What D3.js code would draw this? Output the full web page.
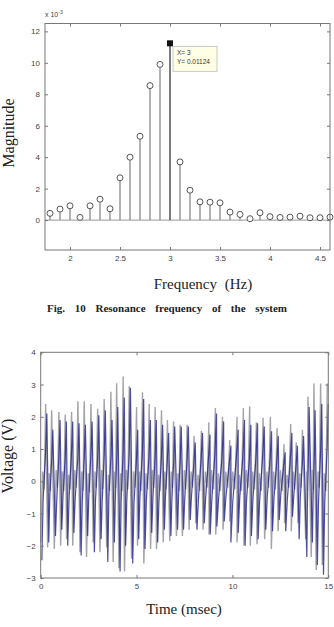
<!DOCTYPE html>
<html>
<head>
<meta charset="utf-8">
<script src="https://cdn.jsdelivr.net/npm/d3@7"></script>
<style>
  body { margin: 0; background: #fff; }
  svg { display: block; }
  .tick text { font-family: "Liberation Sans", Arial, sans-serif; font-size: 8px; fill: #444; }
  .tick line { stroke: #777; }
  .serif { font-family: "Liberation Serif", "Times New Roman", serif; fill: #222; }
</style>
</head>
<body>
<div id="chart"></div>
<script>
// ---- Fig. 10: spectrum (magnitude in units of 1e-3)
const freq = [1.8, 1.9, 2.0, 2.1, 2.2, 2.3, 2.4, 2.5, 2.6, 2.7, 2.8, 2.9, 3.0, 3.1, 3.2,
              3.3, 3.4, 3.5, 3.6, 3.7, 3.8, 3.9, 4.0, 4.1, 4.2, 4.3, 4.4, 4.5, 4.6];
const magnitude = [0.43, 0.7, 0.91, 0.17, 0.91, 1.33, 0.72, 2.69, 4.0, 5.33, 8.55, 9.9, 11.24, 3.7, 1.9,
                   1.16, 1.14, 1.1, 0.51, 0.36, 0.09, 0.47, 0.22, 0.17, 0.19, 0.25, 0.15, 0.15, 0.19];
const freqTicks = [2, 2.5, 3, 3.5, 4, 4.5];
const magTicks = [0, 2, 4, 6, 8, 10, 12];
const tipFreq = 3;
const tipMag = 11.24;
const tipLines = ["X= 3", "Y= 0.01124"];

// ---- voltage trace, read per cycle (ms, V)
const troughTimes = [0.00, 0.36, 0.71, 1.04, 1.35, 1.67, 2.05, 2.39, 2.74, 3.09, 3.44, 3.78, 4.08, 4.37, 4.74,
                     5.05, 5.38, 5.73, 6.04, 6.39, 6.73, 7.08, 7.39, 7.74, 8.09, 8.47, 8.78, 9.13, 9.51, 9.86,
                     10.24, 10.60, 10.93, 11.28, 11.68, 12.03, 12.38, 12.72, 13.07, 13.42, 13.82, 14.11, 14.37, 14.69];
const peakTimes = [0.26, 0.57, 0.95, 1.28, 1.61, 1.94, 2.27, 2.62, 2.97, 3.31, 3.66, 3.96, 4.30, 4.62, 5.00,
                   5.31, 5.66, 5.97, 6.30, 6.61, 6.93, 7.27, 7.64, 8.00, 8.38, 8.77, 9.11, 9.48, 9.86, 10.24,
                   10.57, 10.90, 11.25, 11.60, 11.98, 12.33, 12.69, 13.04, 13.33, 13.65, 13.94, 14.25, 14.60, 14.95];
const grayPeak = [2.4, 2.2, 2.15, 2.07, 2.15, 2.48, 2.48, 2.4, 2.25, 2.55, 2.78, 3.04, 3.25, 2.95, 2.3,
                  2.76, 2.4, 2.3, 2.2, 1.9, 1.85, 1.75, 1.75, 1.4, 1.57, 1.83, 2.27, 2.0, 1.28, 2.0,
                  2.27, 2.33, 1.83, 1.97, 2.0, 1.65, 1.15, 1.78, 1.2, 1.6, 2.63, 3.03, 3.03, 3.03];
const grayTrough = [-1.9, -2.05, -2.1, -2.0, -1.8, -2.0, -2.2, -2.35, -1.9, -2.2, -2.05, -2.5, -2.7, -2.8, -2.4,
                    -2.0, -2.55, -2.1, -2.1, -1.9, -1.85, -1.7, -1.7, -1.5, -1.3, -1.5, -1.65, -1.65, -1.5, -1.25,
                    -1.9, -2.0, -2.0, -1.95, -1.8, -2.1, -1.55, -1.3, -1.55, -1.3, -1.8, -2.35, -2.75, -2.6];
const rippleHigh = [0.3, 0.25, 0.35, 0.3, 0.2, 0.35, 0.3, 0.25, 0.3, 0.35, 0.2, 0.3, 0.25, 0.35, 0.3,
                    0.3, 0.25, 0.35, 0.2, 0.3, 0.3, 0.25, 0.35, 0.3, 0.2, 0.3, 0.35, 0.25, 0.3, 0.3,
                    0.2, 0.35, 0.3, 0.25, 0.3, 0.3, 0.35, 0.2, 0.3, 0.25, 0.3, 0.35, 0.3, 0.25];
const rippleLow = [-0.25, -0.3, -0.2, -0.3, -0.25, -0.2, -0.3, -0.35, -0.2, -0.25, -0.3, -0.2, -0.3, -0.25, -0.2,
                   -0.3, -0.25, -0.2, -0.3, -0.25, -0.2, -0.3, -0.25, -0.2, -0.3, -0.2, -0.25, -0.3, -0.2, -0.25,
                   -0.3, -0.2, -0.25, -0.3, -0.2, -0.25, -0.3, -0.2, -0.25, -0.2, -0.3, -0.25, -0.2, -0.3];
const bluePeak = [2.1, 1.6, 1.9, 1.85, 1.85, 1.8, 1.75, 1.85, 2.05, 2.2, 1.9, 2.3, 2.6, 2.9, 1.6,
                  2.55, 1.9, 1.9, 1.75, 1.5, 1.7, 1.7, 1.7, 1.2, 1.5, 1.45, 2.1, 1.85, 1.1, 1.6,
                  1.9, 1.75, 1.8, 1.7, 1.55, 1.4, 0.9, 1.5, 1.1, 1.4, 2.3, 2.2, 2.4, 2.4];
const blueTrough = [-2.45, -1.9, -1.7, -1.5, -2.0, -1.6, -2.3, -1.7, -2.2, -1.8, -2.5, -1.9, -2.8, -2.0, -2.55,
                    -1.8, -2.1, -1.6, -1.9, -1.5, -1.7, -1.5, -1.5, -1.2, -1.5, -1.3, -1.65, -1.4, -1.25, -1.9,
                    -1.6, -2.0, -1.7, -1.8, -1.5, -1.55, -1.2, -1.55, -1.1, -1.8, -2.35, -1.9, -2.6, -2.9];
const blueShoulderLow = [-0.6, -0.5, -0.7, -0.5, -0.6, -0.55, -0.7, -0.5, -0.6, -0.65, -0.5, -0.7, -0.6, -0.55, -0.7,
                         -0.5, -0.6, -0.55, -0.65, -0.5, -0.6, -0.5, -0.55, -0.45, -0.6, -0.5, -0.6, -0.55, -0.5, -0.65,
                         -0.5, -0.6, -0.55, -0.6, -0.5, -0.55, -0.45, -0.6, -0.5, -0.55, -0.7, -0.6, -0.7, -0.65];
const blueShoulderHigh = [0.9, 0.7, 0.8, 0.75, 0.85, 0.7, 0.8, 0.9, 0.75, 0.85, 0.8, 0.9, 1.0, 0.85, 0.7,
                          0.9, 0.8, 0.75, 0.7, 0.8, 0.65, 0.75, 0.7, 0.6, 0.7, 0.75, 0.85, 0.7, 0.55, 0.75,
                          0.8, 0.7, 0.75, 0.8, 0.7, 0.65, 0.5, 0.7, 0.55, 0.6, 0.85, 0.9, 1.0, 1.1];
const timeTicks = [0, 5, 10, 15];
const voltTicks = [-3, -2, -1, 0, 1, 2, 3, 4];

const svg = d3.select("#chart").append("svg").attr("width", 334).attr("height", 627);

// box with inward ticks on all four sides, like a MATLAB axes
function frame(x, y, xTicks, yTicks) {
  const [x0, x1] = x.range();
  const [yb, yt] = y.range();
  const g = svg.append("g");
  g.append("g").attr("transform", `translate(0,${yb})`)
    .call(d3.axisBottom(x).tickValues(xTicks).tickSizeInner(-3).tickSizeOuter(0)
      .tickPadding(5).tickFormat(d3.format("~g")));
  g.append("g").attr("transform", `translate(0,${yt})`)
    .call(d3.axisTop(x).tickValues(xTicks).tickSizeInner(-3).tickSizeOuter(0).tickFormat(""));
  g.append("g").attr("transform", `translate(${x0},0)`)
    .call(d3.axisLeft(y).tickValues(yTicks).tickSizeInner(-3).tickSizeOuter(0)
      .tickPadding(5).tickFormat(d3.format("~g")));
  g.append("g").attr("transform", `translate(${x1},0)`)
    .call(d3.axisRight(y).tickValues(yTicks).tickSizeInner(-3).tickSizeOuter(0).tickFormat(""));
  g.selectAll(".domain").remove();
  g.append("rect")
    .attr("x", x0).attr("y", yt)
    .attr("width", x1 - x0).attr("height", yb - yt)
    .attr("fill", "none").attr("stroke", "#777");
  return g;
}

// ---------- top chart
const fx = d3.scaleLinear().domain([1.75, 4.6]).range([45, 330]);
const fy = d3.scaleLinear().domain([-1.9, 12.5]).range([250, 23.5]);
const spec = freq.map((f, i) => ({ f, m: magnitude[i] }));

const spectrum = svg.append("g");
spectrum.append("line")
  .attr("x1", fx.range()[0]).attr("x2", fx.range()[1])
  .attr("y1", fy(0)).attr("y2", fy(0))
  .attr("stroke", "#999").attr("stroke-width", 1);

spectrum.selectAll(".stem")
  .data(spec)
  .join("line")
  .attr("x1", d => fx(d.f)).attr("x2", d => fx(d.f))
  .attr("y1", fy(0)).attr("y2", d => fy(d.m))
  .attr("stroke", d => d.f === tipFreq ? "#333" : "#8a8a8a")
  .attr("stroke-width", 1.3);

spectrum.selectAll(".dot")
  .data(spec.filter(d => d.f !== tipFreq))
  .join("circle")
  .attr("cx", d => fx(d.f)).attr("cy", d => fy(d.m))
  .attr("r", 3)
  .attr("fill", "#fff").attr("stroke", "#555").attr("stroke-width", 1);

spectrum.append("rect")
  .attr("x", fx(tipFreq) - 3).attr("y", fy(tipMag) - 3)
  .attr("width", 6).attr("height", 6)
  .attr("fill", "#111");

const tip = spectrum.append("g").attr("transform", `translate(${fx(tipFreq) + 3},${fy(tipMag) + 3})`);
tip.append("rect")
  .attr("width", 44).attr("height", 25)
  .attr("fill", "#ffffe6").attr("stroke", "#bbb").attr("stroke-width", 0.8);
tip.selectAll("text")
  .data(tipLines)
  .join("text")
  .attr("x", 4).attr("y", (d, i) => 9 + i * 9)
  .attr("font-family", "Liberation Sans, Arial, sans-serif")
  .attr("font-size", 6.5).attr("fill", "#333")
  .text(d => d);

frame(fx, fy, freqTicks, magTicks);

const expLabel = svg.append("text")
  .attr("x", 45).attr("y", 17)
  .attr("font-family", "Liberation Sans, Arial, sans-serif")
  .attr("font-size", 7).attr("fill", "#444");
expLabel.append("tspan").text("x 10");
expLabel.append("tspan").attr("dy", -3).attr("font-size", 5).text("-3");

svg.append("text").attr("class", "serif")
  .attr("transform", "translate(14,133) rotate(-90)")
  .attr("text-anchor", "middle").attr("font-size", 16)
  .text("Magnitude");
svg.append("text").attr("class", "serif")
  .attr("x", 203).attr("y", 289)
  .attr("text-anchor", "middle").attr("font-size", 15).attr("word-spacing", 4)
  .text("Frequency (Hz)");
svg.append("text").attr("class", "serif")
  .attr("x", 167).attr("y", 312)
  .attr("text-anchor", "middle").attr("font-size", 11).attr("font-weight", "bold")
  .attr("word-spacing", 7)
  .text("Fig. 10 Resonance frequency of the system");

// ---------- bottom chart
const tx = d3.scaleLinear().domain([0, 15]).range([40.7, 328.3]);
const vy = d3.scaleLinear().domain([-3, 4]).range([578, 352.3]);

const grayPts = [];
const bluePts = [];
troughTimes.forEach((t0, i) => {
  const t1 = peakTimes[i];
  const gap = t1 - t0;
  grayPts.push([t0, grayTrough[i]]);
  grayPts.push([t0 + gap * 0.4, rippleHigh[i]]);
  grayPts.push([t0 + gap * 0.7, rippleLow[i]]);
  grayPts.push([t1, grayPeak[i]]);
  bluePts.push([t0 + 0.06, blueTrough[i]]);
  bluePts.push([t0 + 0.06 + gap * 0.25, blueShoulderLow[i]]);
  bluePts.push([t0 + 0.06 + gap * 0.75, blueShoulderHigh[i]]);
  bluePts.push([Math.min(t1 + 0.06, 15), bluePeak[i]]);
});

const line = d3.line().x(d => tx(d[0])).y(d => vy(d[1]));
const plot = svg.append("g");
plot.append("path").datum(grayPts)
  .attr("fill", "none").attr("stroke", "#a3a3aa").attr("stroke-width", 1.4)
  .attr("d", line);
plot.append("path").datum(bluePts)
  .attr("fill", "none").attr("stroke", "#22228a").attr("stroke-width", 1.2)
  .attr("stroke-opacity", 0.8)
  .attr("d", line);

frame(tx, vy, timeTicks, voltTicks);

svg.append("text").attr("class", "serif")
  .attr("transform", "translate(13,456) rotate(-90)")
  .attr("text-anchor", "middle").attr("font-size", 16)
  .text("Voltage (V)");
svg.append("text").attr("class", "serif")
  .attr("x", 184).attr("y", 614)
  .attr("text-anchor", "middle").attr("font-size", 15)
  .text("Time (msec)");
</script>
</body>
</html>
